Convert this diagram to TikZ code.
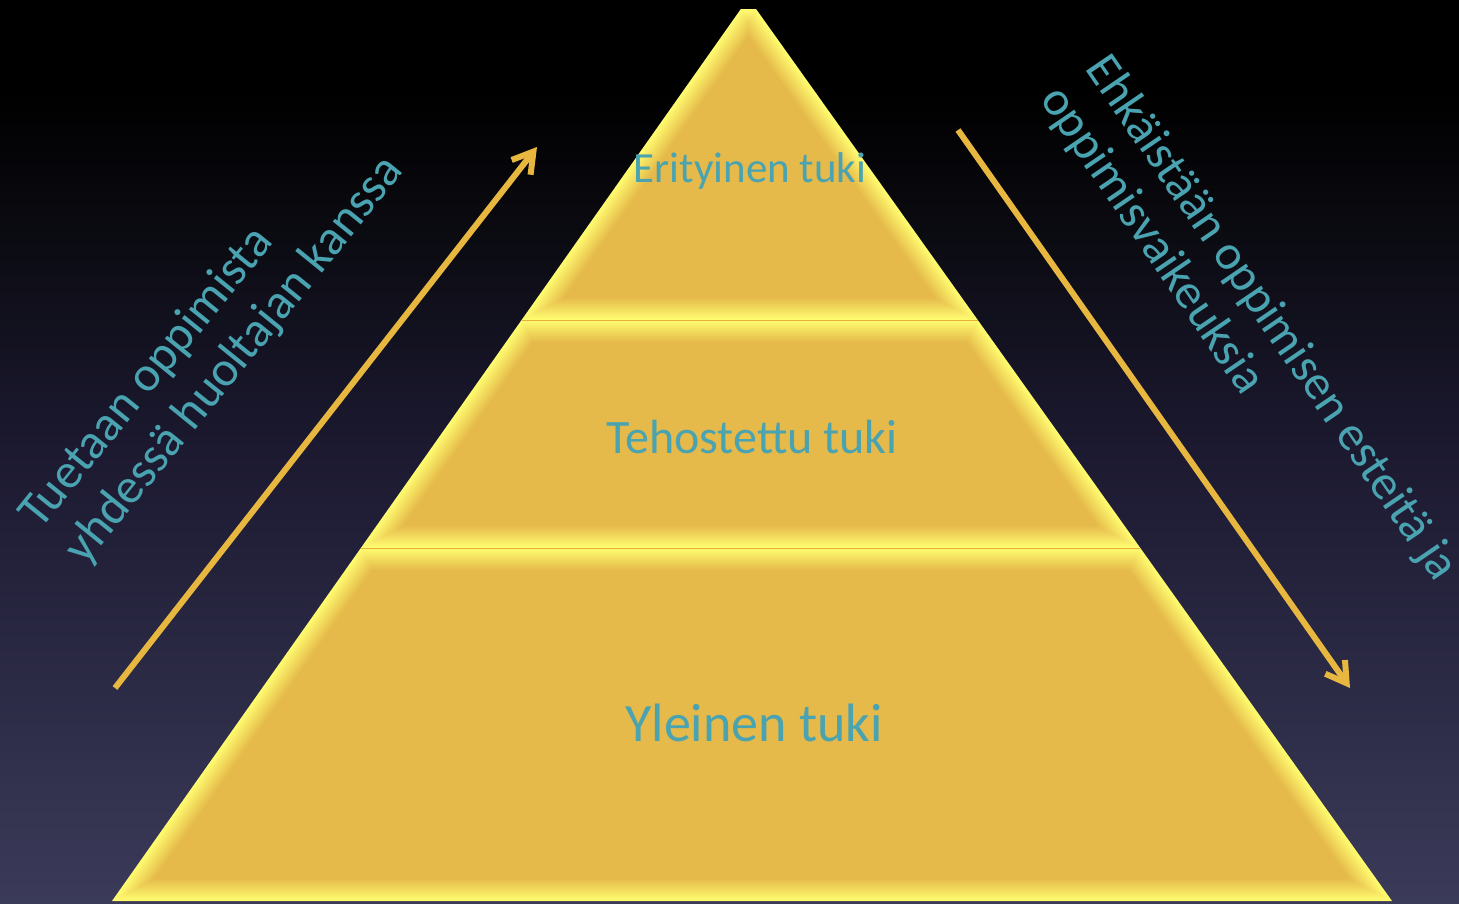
\documentclass[tikz,border=0pt]{standalone}
\usepackage{fontspec}
\setmainfont{Carlito}
\usetikzlibrary{arrows.meta}
\definecolor{txt}{RGB}{74,163,176}
\definecolor{arr}{RGB}{232,183,64}
\definecolor{tgold}{RGB}{229,185,74}
\definecolor{tyel}{RGB}{255,252,112}
\pgfdeclareverticalshading{bgshade}{100bp}{rgb(0bp)=(0.23,0.23,0.35); rgb(25bp)=(0.23,0.23,0.35); rgb(50bp)=(0.11,0.10,0.19); rgb(62.5bp)=(0.04,0.04,0.065); rgb(70bp)=(0,0,0); rgb(100bp)=(0,0,0)}
\newcommand{\bevtier}[2]{%
  \foreach \i in {0,...,16}{%
    \pgfmathsetmacro{\dd}{\i*1.375}%
    \pgfmathsetmacro{\ym}{901-(1280-2.4517*\dd)/1.418}%
    \pgfmathsetmacro{\yt}{max(#1+\dd,\ym)}%
    \pgfmathsetmacro{\yb}{#2-\dd}%
    \pgfmathsetmacro{\xlt}{112+0.705*(901-\yt)+1.2235*\dd}%
    \pgfmathsetmacro{\xrt}{1392-0.713*(901-\yt)-1.2282*\dd}%
    \pgfmathsetmacro{\xlb}{112+0.705*(901-\yb)+1.2235*\dd}%
    \pgfmathsetmacro{\xrb}{1392-0.713*(901-\yb)-1.2282*\dd}%
    \pgfmathtruncatemacro{\pc}{100*\i/16}%
    \fill[tgold!\pc!tyel] (\xlt,\yt) -- (\xrt,\yt) -- (\xrb,\yb) -- (\xlb,\yb) -- cycle;
  }%
}
\begin{document}
\begin{tikzpicture}[x=1pt,y=-1pt,
  lbl/.style={text=txt, inner sep=0pt},
  arrowline/.style={draw=arr, line width=6pt, -{Straight Barb[length=20pt,width=24pt]}}]
\useasboundingbox (0,0) rectangle (1459,903);
\shade[shading=bgshade] (0,0) rectangle (1459,903);
% tiers
\bevtier{548}{901}
\bevtier{320}{548}
\bevtier{9}{320}
\draw[tgold!80!orange, line width=0.8pt] (522,320) -- (978,320);
\draw[tgold!80!orange, line width=0.8pt] (361,548) -- (1140,548);
% labels
\node[lbl, anchor=base, font=\fontsize{43}{50}\selectfont] (er) at (750,182) {Erityinen tuki};
\node[lbl, anchor=base, font=\fontsize{48}{56}\selectfont] (teh) at (752,453) {Tehostettu tuki};
\node[lbl, anchor=base, font=\fontsize{54}{62}\selectfont] (yl) at (754,741) {Yleinen tuki};
\node[lbl, rotate=51, anchor=north west, align=left, font=\fontsize{49.5}{57}\selectfont] (ltxt) at (14,509) {Tuetaan oppimista\\yhdessä huoltajan kanssa};
\node[lbl, rotate=-55.7, anchor=north west, align=left, font=\fontsize{49}{55}\selectfont] (rtxt) at (1113,49) {Ehkäistään oppimisen esteitä ja\\oppimisvaikeuksia};
% arrows
\coordinate (la) at (115,688);
\coordinate (lb) at (537,147);
\coordinate (ra) at (958,130);
\coordinate (rb) at (1350,688);
\draw[arrowline] (la) -- (lb);
\draw[arrowline] (ra) -- (rb);
\end{tikzpicture}
\end{document}
